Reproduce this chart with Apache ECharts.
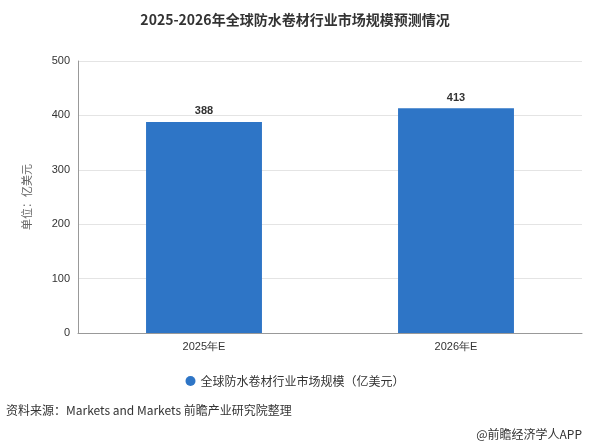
<!DOCTYPE html>
<html><head><meta charset="utf-8">
<script src="https://cdn.jsdelivr.net/npm/echarts@6/dist/echarts.min.js"></script>
<style>html,body{margin:0;padding:0;background:#fff}#c{width:590px;height:448px}</style>
</head><body><div id="c"></div>
<script>
var categories = ["2025年E", "2026年E"];
var values = [388, 413];
var seriesName = "全球防水卷材行业市场规模（亿美元）";

var chart = echarts.init(document.getElementById("c"));
chart.setOption({
	animation: false,
	title: {
		text: "2025-2026年全球防水卷材行业市场规模预测情况",
		left: "center", top: 8,
		textStyle: { fontSize: 14, fontWeight: "bold", color: "#333", fontFamily: "Noto Sans CJK SC" }
	},
	grid: { left: 78, right: 8, top: 61, bottom: 115 },
	legend: {
		bottom: 56, left: "center", icon: "circle", itemWidth: 10, itemHeight: 10,
		textStyle: { fontSize: 12, color: "#333", fontFamily: "Noto Sans CJK SC" },
		data: [seriesName]
	},
	xAxis: {
		type: "category", data: categories,
		axisLine: { lineStyle: { color: "#999" } },
		axisTick: { show: false },
		axisLabel: { color: "#333", fontSize: 11 }
	},
	yAxis: {
		type: "value", min: 0, max: 500, interval: 100,
		name: "单位：亿美元", nameLocation: "middle", nameGap: 46,
		nameTextStyle: { color: "#666", fontSize: 11, fontFamily: "Noto Sans CJK SC" },
		axisLine: { show: true, lineStyle: { color: "#999" } },
		axisLabel: { color: "#333", fontSize: 11 },
		splitLine: { lineStyle: { color: "#e4e4e4" } }
	},
	series: [{
		name: seriesName, type: "bar", data: values, barWidth: "46%",
		itemStyle: { color: "#2e75c6" },
		label: { show: true, position: "top", fontWeight: "bold", color: "#333", fontSize: 11 }
	}],
	graphic: [
		{ type: "text", left: 6, top: 404, style: { text: "资料来源：Markets and Markets 前瞻产业研究院整理", fontSize: 12, fill: "#333", fontFamily: "Noto Sans CJK SC" } },
		{ type: "text", right: 8, top: 428, style: { text: "@前瞻经济学人APP", fontSize: 12, fill: "#333", fontFamily: "Noto Sans CJK SC" } }
	]
});
</script></body></html>
